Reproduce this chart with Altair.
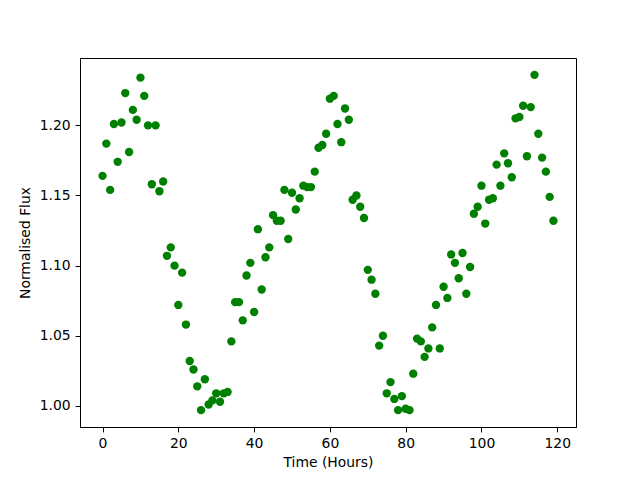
import altair as alt
import pandas as pd

hours = list(range(120))
flux = [
    1.164, 1.187, 1.154, 1.201, 1.174, 1.202, 1.223, 1.181, 1.211, 1.204,
    1.234, 1.221, 1.200, 1.158, 1.200, 1.153, 1.160, 1.107, 1.113, 1.100,
    1.072, 1.095, 1.058, 1.032, 1.026, 1.014, 0.997, 1.019, 1.001, 1.004,
    1.009, 1.003, 1.009, 1.010, 1.046, 1.074, 1.074, 1.061, 1.093, 1.102,
    1.067, 1.126, 1.083, 1.106, 1.113, 1.136, 1.132, 1.132, 1.154, 1.119,
    1.152, 1.140, 1.148, 1.157, 1.156, 1.156, 1.167, 1.184, 1.186, 1.194,
    1.219, 1.221, 1.201, 1.188, 1.212, 1.204, 1.147, 1.150, 1.142, 1.134,
    1.097, 1.090, 1.080, 1.043, 1.050, 1.009, 1.017, 1.005, 0.997, 1.007,
    0.998, 0.997, 1.023, 1.048, 1.046, 1.035, 1.041, 1.056, 1.072, 1.041,
    1.085, 1.077, 1.108, 1.102, 1.091, 1.109, 1.080, 1.099, 1.137, 1.142,
    1.157, 1.130, 1.147, 1.148, 1.172, 1.157, 1.180, 1.173, 1.163, 1.205,
    1.206, 1.214, 1.178, 1.213, 1.236, 1.194, 1.177, 1.167, 1.149, 1.132,
]
x_ticks = [0, 20, 40, 60, 80, 100, 120]
y_ticks = [1.00, 1.05, 1.10, 1.15, 1.20]

df = pd.DataFrame({"hour": hours, "flux": flux})

font = "DejaVu Sans"

chart = (
    alt.Chart(df)
    .mark_circle(color="#008000", opacity=1, size=70)
    .encode(
        x=alt.X(
            "hour:Q",
            scale=alt.Scale(domain=[-5.95, 124.95], nice=False, zero=False),
            axis=alt.Axis(
                title="Time (Hours)",
                values=x_ticks,
                format="d",
                grid=False,
                tickSize=4.9,
                labelPadding=4.9,
                titlePadding=5,
            ),
        ),
        y=alt.Y(
            "flux:Q",
            scale=alt.Scale(domain=[0.985, 1.248], nice=False, zero=False),
            axis=alt.Axis(
                title="Normalised Flux",
                values=y_ticks,
                format=".2f",
                grid=False,
                tickSize=4.9,
                labelPadding=4.9,
                titlePadding=7,
            ),
        ),
    )
    .properties(
        width=496,
        height=369,
        autosize=alt.AutoSizeParams(type="none"),
        padding={"left": 72, "top": 50, "right": 48, "bottom": 45},
    )
    .configure_view(stroke="black", strokeWidth=1)
    .configure_axis(
        domainColor="black",
        tickColor="black",
        labelColor="black",
        titleColor="black",
        labelFont=font,
        titleFont=font,
        labelFontSize=13.9,
        titleFontSize=13.9,
        titleFontWeight="normal",
    )
)

chart.save("out.html", embed_options={"renderer": "svg", "actions": False})
